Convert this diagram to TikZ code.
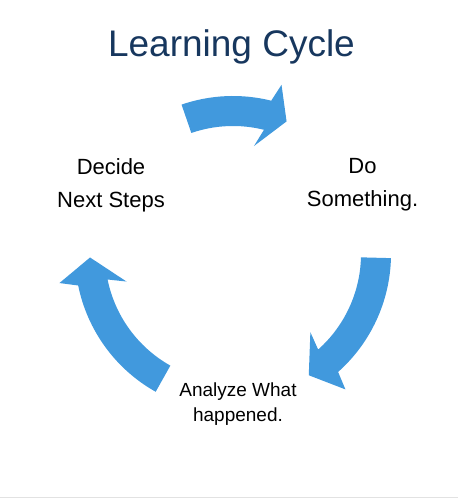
\documentclass[tikz,border=0pt]{standalone}
\usepackage{fontspec}
\setmainfont{Liberation Sans}
\definecolor{cyclenavy}{HTML}{17375E}
\definecolor{cycleblue}{HTML}{4199DD}
\definecolor{rulegray}{HTML}{E2E2E2}
\tikzset{
	titletext/.style={anchor=base, text=cyclenavy, font=\fontsize{37}{44}\selectfont},
	steplabel/.style={align=center, font=\fontsize{22}{33}\selectfont},
	smalllabel/.style={align=center, font=\fontsize{19}{25}\selectfont}
}
% Block arrow on the ring: tail angle, head base angle, tip angle.
\newcommand{\cyclearrow}[3]{%
	\fill[cycleblue] (#1:158) arc[start angle=#1, end angle=#2, radius=158]
		-- ({#2-2}:176) -- (#3:143) -- ({#2+3}:110) -- (#2:128)
		arc[start angle=#2, end angle=#1, radius=128] -- cycle;}
\begin{document}
\begin{tikzpicture}[x=1pt, y=1pt]
	\useasboundingbox (0,0) rectangle (458,500);
	% Title.
	\node[titletext] (title) at (231.5,443) {Learning Cycle};
	% Stage labels.
	\node[steplabel] (decide) at (111,315) {Decide\\Next Steps};
	\node[steplabel] (do) at (362.5,315) {Do\\Something.};
	\node[smalllabel] (analyze) at (238,96) {Analyze What\\happened.};
	% Arrows round the cycle.
	\begin{scope}[shift={(233,246)}]
		\cyclearrow{109}{76}{68}
		\cyclearrow{-1.5}{-48.3}{-58}
		\cyclearrow{240.7}{191.5}{181.4}
	\end{scope}
	% Bottom rule.
	\draw[rulegray, line width=1pt] (0,2) -- (458,2);
\end{tikzpicture}
\end{document}
